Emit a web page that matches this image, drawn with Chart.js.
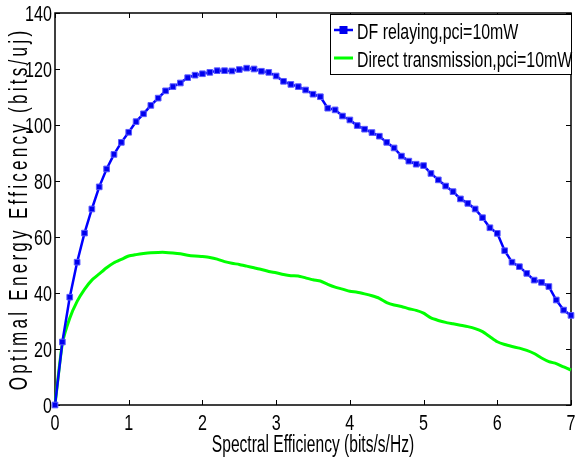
<!DOCTYPE html>
<html>
<head>
<meta charset="UTF-8" />
<title>Optimal energy efficiency vs spectral efficiency</title>
<script src="https://cdn.jsdelivr.net/npm/chart.js"></script>
<style>
  body { margin: 0; background: #fff; }
  #wrap { width: 576px; height: 461px; }
</style>
</head>
<body>
<div id="wrap"><canvas id="chart"></canvas></div>
<script>
// spectral efficiency (bits/s/Hz)
const spectralEff = [
  0.0, 0.1, 0.2, 0.3, 0.4, 0.5, 0.6, 0.7, 0.8, 0.9,
  1.0, 1.1, 1.2, 1.3, 1.4, 1.5, 1.6, 1.7, 1.8, 1.9,
  2.0, 2.1, 2.2, 2.3, 2.4, 2.5, 2.6, 2.7, 2.8, 2.9,
  3.0, 3.1, 3.2, 3.3, 3.4, 3.5, 3.6, 3.7, 3.8, 3.9,
  4.0, 4.1, 4.2, 4.3, 4.4, 4.5, 4.6, 4.7, 4.8, 4.9,
  5.0, 5.1, 5.2, 5.3, 5.4, 5.5, 5.6, 5.7, 5.8, 5.9,
  6.0, 6.1, 6.2, 6.3, 6.4, 6.5, 6.6, 6.7, 6.8, 6.9,
  7.0
];
// energy efficiency (bits/uj), DF relaying
const dfRelaying = [
  0, 22.5, 38.5, 51, 61.4, 70, 77.9, 84.3, 89.5, 93.8,
  97.4, 101.2, 104, 107, 109.6, 112.2, 113.7, 115, 116.9, 117.8,
  118.3, 118.8, 119.4, 119.4, 119.3, 119.8, 120.3, 120, 119.2, 118.8,
  117.5, 115.6, 114.5, 113.7, 112.5, 111, 110.1, 106, 105.4, 103.2,
  101.8, 99.8, 98.5, 97.3, 96, 93.8, 91.8, 88.9, 87.1, 86,
  85.5, 82.7, 80.4, 78.2, 76.2, 73.6, 72, 70, 66.9, 63.3,
  61.3, 55.1, 51, 49.4, 47, 44.6, 43.8, 42.3, 37.5, 33.9,
  32
];
// energy efficiency (bits/uj), direct transmission
const directTx = [
  0, 22, 31, 37, 41.3, 44.6, 46.8, 49, 50.8, 52,
  53.2, 53.7, 54.1, 54.4, 54.5, 54.5, 54.3, 54, 53.5, 53.2,
  53, 52.7, 52.1, 51.2, 50.6, 50.2, 49.6, 49, 48.4, 47.7,
  47.2, 46.6, 46.2, 46.1, 45.4, 44.7, 44.3, 43.1, 42.1, 41.4,
  40.6, 40.3, 39.7, 39, 38.1, 36.6, 35.7, 35.2, 34.4, 33.8,
  32.8, 31.1, 30.2, 29.5, 29, 28.5, 28, 27.3, 26.2, 24.4,
  22.6, 21.6, 20.9, 20.3, 19.5, 18.4, 16.8, 15.5, 14.8, 13.6,
  12.5
];
const xTickValues = [0, 1, 2, 3, 4, 5, 6, 7];
const yTickValues = [0, 20, 40, 60, 80, 100, 120, 140];
const seriesNames = ['DF relaying,pci=10mW', 'Direct transmission,pci=10mW'];
const xTitle = 'Spectral Efficiency (bits/s/Hz)';
const yTitle = 'Optimal Energy Efficency (bits/uj)';

const FONT = "'Liberation Sans', Arial, Helvetica, sans-serif";

function toPoints(ys) {
  return spectralEff.map((x, i) => ({ x, y: ys[i] }));
}

// text squeezed sideways and stretched upward, like the old figure fonts
function tallText(ctx, text, x, y, size, align, sx, sy) {
  ctx.save();
  ctx.translate(x, y);
  ctx.scale(sx, sy);
  ctx.font = size + 'px ' + FONT;
  ctx.textAlign = align;
  ctx.textBaseline = 'alphabetic';
  ctx.fillText(text, 0, 0);
  ctx.restore();
}

// box frame, inward ticks, tick labels, axis titles and the legend
const decorations = {
  id: 'decorations',
  beforeDatasetsDraw(chart) {
    const { ctx, chartArea: a, scales: { x, y } } = chart;
    ctx.save();
    ctx.strokeStyle = '#000';
    ctx.lineWidth = 1;
    ctx.beginPath();
    x.ticks.forEach(t => {
      const px = Math.round(x.getPixelForValue(t.value)) + 0.5;
      ctx.moveTo(px, a.bottom); ctx.lineTo(px, a.bottom - 5);
      ctx.moveTo(px, a.top); ctx.lineTo(px, a.top + 5);
    });
    y.ticks.forEach(t => {
      const py = Math.round(y.getPixelForValue(t.value)) + 0.5;
      ctx.moveTo(a.left, py); ctx.lineTo(a.left + 5, py);
      ctx.moveTo(a.right, py); ctx.lineTo(a.right - 5, py);
    });
    ctx.stroke();
    ctx.lineWidth = 1.5;
    ctx.strokeRect(a.left, a.top, a.right - a.left, a.bottom - a.top);

    // tick labels
    ctx.fillStyle = '#000';
    x.ticks.forEach(t => {
      tallText(ctx, String(t.value), x.getPixelForValue(t.value), a.bottom + 25, 19, 'center', 0.85, 1.2);
    });
    y.ticks.forEach(t => {
      tallText(ctx, String(t.value), a.left - 3, y.getPixelForValue(t.value) + 8, 19, 'right', 0.85, 1.2);
    });
    ctx.restore();
  },
  afterDraw(chart) {
    const { ctx, chartArea: a } = chart;
    ctx.save();
    ctx.fillStyle = '#000';

    // x title
    tallText(ctx, xTitle, (a.left + a.right) / 2, 452, 19, 'center', 0.82, 1.23);

    // y title, rotated and letter spaced
    ctx.save();
    ctx.translate(27, (a.top + a.bottom) / 2);
    ctx.rotate(-Math.PI / 2);
    ctx.scale(0.9, 1.32);
    ctx.font = '19px ' + FONT;
    ctx.letterSpacing = '3.6px';
    ctx.textAlign = 'center';
    ctx.textBaseline = 'alphabetic';
    ctx.fillText(yTitle, 0, 0);
    ctx.restore();

    // legend box in the top right corner
    const lx = 330, ly = a.top + 1, lw = a.right - lx, lh = 60;
    ctx.fillStyle = '#fff';
    ctx.fillRect(lx, ly, lw, lh);
    ctx.strokeStyle = '#000';
    ctx.lineWidth = 1;
    ctx.strokeRect(lx + 0.5, ly + 0.5, lw, lh);

    const rows = [30, 58];
    chart.data.datasets.forEach((ds, i) => {
      const ry = rows[i];
      ctx.strokeStyle = ds.borderColor;
      ctx.lineWidth = ds.borderWidth;
      ctx.beginPath();
      ctx.moveTo(334, ry);
      ctx.lineTo(353, ry);
      ctx.stroke();
      if (ds.pointRadius > 0) {
        ctx.fillStyle = ds.pointBackgroundColor;
        ctx.fillRect(343.5 - 4, ry - 4, 8, 8);
      }
      ctx.fillStyle = '#000';
      tallText(ctx, seriesNames[i], 357, ry + 9, 18.5, 'left', 0.86, 1.24);
    });
    ctx.restore();
  }
};

new Chart(document.getElementById('chart'), {
  type: 'line',
  data: {
    datasets: [
      {
        label: seriesNames[0],
        data: toPoints(dfRelaying),
        borderColor: '#0000ff',
        borderWidth: 2.5,
        pointStyle: 'rect',
        pointRadius: 4,
        pointBackgroundColor: '#0000ee',
        pointBorderColor: '#5a5aff',
        pointBorderWidth: 1,
        tension: 0,
        clip: 8
      },
      {
        label: seriesNames[1],
        data: toPoints(directTx),
        borderColor: '#00ff00',
        borderWidth: 3,
        pointRadius: 0,
        tension: 0.2,
        clip: 8
      }
    ]
  },
  options: {
    responsive: true,
    maintainAspectRatio: false,
    animation: false,
    layout: { padding: { left: 0, right: 2, top: 13, bottom: 0 } },
    plugins: { legend: { display: false }, tooltip: { enabled: false } },
    scales: {
      x: {
        type: 'linear',
        min: 0, max: 7,
        afterBuildTicks: s => { s.ticks = xTickValues.map(v => ({ value: v })); },
        afterFit: s => { s.height = 56; s.paddingLeft = 0; s.paddingRight = 0; },
        grid: { display: false, drawTicks: false },
        border: { display: false },
        ticks: { display: false }
      },
      y: {
        min: 0, max: 140,
        afterBuildTicks: s => { s.ticks = yTickValues.map(v => ({ value: v })); },
        afterFit: s => { s.width = 55; s.paddingTop = 0; s.paddingBottom = 0; },
        grid: { display: false, drawTicks: false },
        border: { display: false },
        ticks: { display: false }
      }
    }
  },
  plugins: [decorations]
});
</script>
</body>
</html>
